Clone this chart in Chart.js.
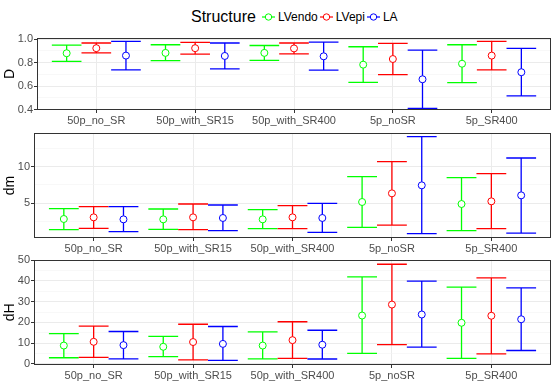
<!DOCTYPE html>
<html>
<head>
<meta charset="utf-8">
<script src="https://cdn.jsdelivr.net/npm/chart.js@4"></script>
<style>
  body { margin: 0; background: #fff; width: 556px; height: 382px; overflow: hidden; position: relative;
         font-family: "Liberation Sans", Arial, sans-serif; }
  canvas { position: absolute; left: 0; }
  #legend { position: absolute; top: 7px; left: 191px; height: 20px; display: flex; align-items: center; white-space: nowrap; }
  #legend .ltitle { font-size: 16px; color: #000; margin-right: 6px; }
  #legend .item { display: flex; align-items: center; font-size: 12px; color: #000; margin-right: 2px; }
  #legend svg { margin-right: 3px; }
</style>
</head>
<body>
<div id="legend"><span class="ltitle">Structure</span></div>
<canvas id="cD" width="556" height="100" style="top:28px"></canvas>
<canvas id="cDm" width="556" height="136" style="top:124px"></canvas>
<canvas id="cDh" width="556" height="130" style="top:252px"></canvas>
<script>
const categories = ["50p_no_SR", "50p_with_SR15", "50p_with_SR400", "5p_noSR", "5p_SR400"];
const seriesNames = ["LVendo", "LVepi", "LA"];
const seriesColors = ["#00FF00", "#FF0000", "#0000FF"];

// one row per series (LVendo, LVepi, LA), one column per category
const dMid  = [[0.879, 0.882, 0.882, 0.782, 0.790], [0.922, 0.922, 0.920, 0.830, 0.859], [0.859, 0.856, 0.853, 0.658, 0.718]];
const dLow  = [[0.810, 0.816, 0.819, 0.632, 0.629], [0.882, 0.871, 0.874, 0.698, 0.738], [0.738, 0.747, 0.736, 0.411, 0.517]];
const dHigh = [[0.948, 0.951, 0.945, 0.934, 0.951], [0.966, 0.971, 0.966, 0.963, 0.980], [0.980, 0.966, 0.974, 0.905, 0.920]];
const dTicks = [0.4, 0.6, 0.8, 1.0];
const dMinor = [0.5, 0.7, 0.9];

const dmMid  = [[2.78, 2.73, 2.73, 5.14, 4.86], [3.01, 3.01, 3.01, 6.34, 5.23], [2.73, 2.92, 2.92, 7.45, 6.06]];
const dmLow  = [[1.30, 1.34, 1.44, 1.62, 1.16], [1.48, 1.30, 1.44, 1.94, 1.44], [1.02, 1.16, 0.93, 0.74, 0.83]];
const dmHigh = [[4.21, 4.17, 4.07, 8.66, 8.52], [4.49, 4.86, 4.63, 10.74, 9.07], [4.49, 4.72, 4.95, 14.21, 11.25]];
const dmTicks = [5, 10];
const dmMinor = [2.5, 7.5, 12.5];

const dhMid  = [[8.8, 8.2, 8.8, 23.3, 19.8], [10.6, 10.5, 11.4, 28.6, 23.2], [9.0, 9.6, 9.2, 23.8, 21.5]];
const dhLow  = [[2.9, 3.4, 2.4, 5.0, 2.6], [3.1, 1.9, 2.6, 9.2, 4.8], [2.4, 1.6, 2.3, 8.0, 6.4]];
const dhHigh = [[14.6, 13.2, 15.4, 42.0, 37.0], [18.2, 19.1, 20.3, 48.1, 41.5], [15.6, 18.0, 16.2, 39.9, 36.7]];
const dhTicks = [0, 10, 20, 30, 40, 50];
const dhMinor = [5, 15, 25, 35, 45];

Chart.defaults.font.family = "'Liberation Sans', Arial, sans-serif";

const DODGE = 0.3;     // series offset in category units
const CAP = 0.15;      // half cap width in category units

// legend keys
const legend = document.getElementById("legend");
seriesNames.forEach((name, i) => {
  const c = seriesColors[i];
  legend.insertAdjacentHTML("beforeend",
    `<span class="item"><svg width="13" height="12"><line x1="0" y1="6" x2="13" y2="6" stroke="${c}" stroke-width="1.2"/>` +
    `<circle cx="6.5" cy="6" r="3.2" fill="#fff" stroke="${c}" stroke-width="1"/></svg>${name}</span>`);
});

const errorBars = {
  id: "errorBars",
  beforeDatasetsDraw(chart) {
    const { ctx, scales: { x, y } } = chart;
    chart.data.datasets.forEach((ds, di) => {
      const meta = chart.getDatasetMeta(di);
      ctx.save();
      ctx.strokeStyle = ds.borderColor;
      ctx.lineWidth = 1.3;
      meta.data.forEach((pt, i) => {
        const xv = ds.data[i].x;
        const px = x.getPixelForValue(xv);
        const half = x.getPixelForValue(xv + CAP) - px;
        const yl = y.getPixelForValue(ds.errLow[i]);
        const yh = y.getPixelForValue(ds.errHigh[i]);
        ctx.beginPath();
        ctx.moveTo(px, yl); ctx.lineTo(px, yh);
        ctx.moveTo(px - half, yl); ctx.lineTo(px + half, yl);
        ctx.moveTo(px - half, yh); ctx.lineTo(px + half, yh);
        ctx.stroke();
      });
      ctx.restore();
    });
  },
  afterDatasetsDraw(chart) {
    const { ctx, chartArea: a } = chart;
    ctx.save();
    ctx.strokeStyle = "#333333";
    ctx.lineWidth = 1;
    ctx.strokeRect(Math.round(a.left) + 0.5, Math.round(a.top) + 0.5,
      Math.round(a.right - a.left) - 1, Math.round(a.bottom - a.top) - 1);
    ctx.restore();
  }
};

function makePanel(p) {
  const datasets = seriesNames.map((name, s) => ({
    label: name,
    data: categories.map((_, i) => ({ x: i + (s - 1) * DODGE, y: p.mid[s][i] })),
    errLow: p.low[s],
    errHigh: p.high[s],
    borderColor: seriesColors[s],
    backgroundColor: "#fff",
    pointRadius: 3.5,
    pointBorderWidth: 1,
    showLine: false
  }));
  const majors = new Set(p.ticks);
  new Chart(document.getElementById(p.id), {
    type: "scatter",
    data: { datasets },
    plugins: [errorBars],
    options: {
      responsive: false,
      animation: false,
      devicePixelRatio: 1,
      layout: { padding: { top: p.padTop, right: 5, left: 0, bottom: 0 } },
      plugins: { legend: { display: false }, tooltip: { enabled: false } },
      scales: {
        x: {
          type: "linear",
          min: -0.6, max: categories.length - 0.4,
          afterBuildTicks: s => { s.ticks = categories.map((_, i) => ({ value: i })); },
          afterFit: s => { s.height = p.xAxisH; },
          ticks: { callback: v => categories[v], color: "#4D4D4D", font: { size: 11 }, padding: 1, maxRotation: 0, autoSkip: false },
          grid: { color: "#EBEBEB", lineWidth: 1, tickLength: 3, tickColor: "#333333" },
          border: { display: false }
        },
        y: {
          min: p.min, max: p.max,
          afterBuildTicks: s => { s.ticks = p.ticks.concat(p.minor).sort((a, b) => a - b).map(v => ({ value: v })); },
          afterFit: s => { s.width = p.axisW; },
          ticks: {
            callback: v => majors.has(v) ? p.fmt(v) : "",
            color: "#4D4D4D", font: { size: 11 }, padding: 1, autoSkip: false
          },
          grid: {
            color: c => majors.has(c.tick && c.tick.value) ? "#EBEBEB" : "#F4F4F4",
            lineWidth: c => majors.has(c.tick && c.tick.value) ? 1 : 0.6,
            tickColor: c => majors.has(c.tick && c.tick.value) ? "#333333" : "rgba(0,0,0,0)",
            tickLength: 3
          },
          border: { display: false },
          title: { display: true, text: p.title, color: "#000", font: { size: 14 }, padding: { top: 2, bottom: 0 } }
        }
      }
    }
  });
}

makePanel({ id: "cD", title: "D", mid: dMid, low: dLow, high: dHigh, ticks: dTicks, minor: dMinor,
  min: 0.397, max: 1.0085, fmt: v => v.toFixed(1), axisW: 37, padTop: 10, xAxisH: 18 });
makePanel({ id: "cDm", title: "dm", mid: dmMid, low: dmLow, high: dmHigh, ticks: dmTicks, minor: dmMinor,
  min: 0.14, max: 14.72, fmt: v => String(v), axisW: 34, padTop: 9, xAxisH: 22 });
makePanel({ id: "cDh", title: "dH", mid: dhMid, low: dhLow, high: dhHigh, ticks: dhTicks, minor: dhMinor,
  min: -0.6, max: 50.34, fmt: v => String(v), axisW: 34, padTop: 7, xAxisH: 17 });
</script>
</body>
</html>
